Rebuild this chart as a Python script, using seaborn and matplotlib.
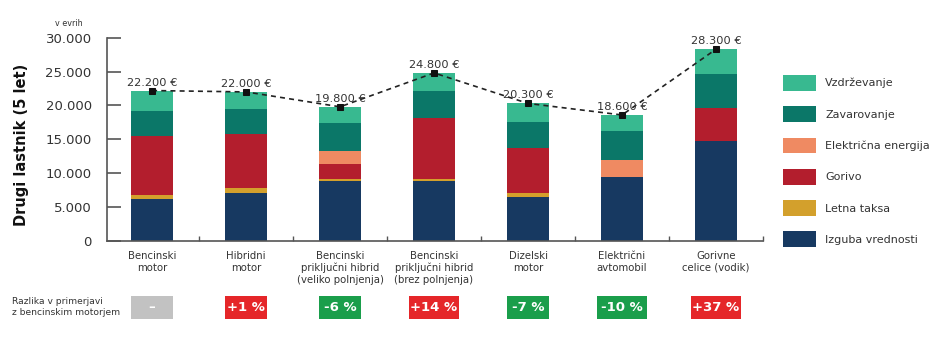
import numpy as np
import pandas as pd
import matplotlib
matplotlib.use("Agg")
import matplotlib.pyplot as plt
import seaborn as sns
from matplotlib.patches import Rectangle, Patch
from matplotlib.transforms import blended_transform_factory

# ---------------- data ----------------
categories = ["Bencinski\nmotor", "Hibridni\nmotor",
              "Bencinski\npriključni hibrid\n(veliko polnjenja)",
              "Bencinski\npriključni hibrid\n(brez polnjenja)",
              "Dizelski\nmotor", "Električni\navtomobil", "Gorivne\ncelice (vodik)"]
izguba_vrednosti = [6250, 7050, 8800, 8800, 6450, 9400, 14700]
letna_taksa = [500, 750, 350, 350, 600, 0, 0]
gorivo = [8750, 7950, 2250, 9000, 6650, 0, 4950]
elektricna_energija = [0, 0, 1900, 0, 0, 2500, 0]
zavarovanje = [3750, 3800, 4100, 4050, 3900, 4300, 5000]
vzdrzevanje = [2950, 2450, 2400, 2600, 2700, 2400, 3650]
totals = [22200, 22000, 19800, 24800, 20300, 18600, 28300]
diff_labels = ["–", "+1 %", "-6 %", "+14 %", "-7 %", "-10 %", "+37 %"]
yticks = [0, 5000, 10000, 15000, 20000, 25000, 30000]

layer_names = ["Izguba vrednosti", "Letna taksa", "Gorivo",
               "Električna energija", "Zavarovanje", "Vzdrževanje"]
layer_values = [izguba_vrednosti, letna_taksa, gorivo,
                elektricna_energija, zavarovanje, vzdrzevanje]
layer_colors = ["#173961", "#d3a02c", "#b31e2d", "#ef8a62", "#0b7768", "#38b990"]

# ---------------- style ----------------
sns.set_theme(style="white")
plt.rcParams["font.family"] = ["DejaVu Sans"]
plt.rcParams["xtick.direction"] = "in"
plt.rcParams["ytick.direction"] = "in"
plt.rcParams["xtick.bottom"] = True
plt.rcParams["ytick.left"] = True
text_col = "#333333"
spine_col = "#555555"

fig = plt.figure(figsize=(9.4, 3.61), dpi=100)
W, H = 940, 361
ax_left, ax_right = 107 / W, 763 / W
ax_bottom, ax_top = 1 - 241 / H, 1 - 37.7 / H
ax = fig.add_axes([ax_left, ax_bottom, ax_right - ax_left, ax_top - ax_bottom])

# stacked bars via cumulative sums (draw tallest first)
df = pd.DataFrame({n: v for n, v in zip(layer_names, layer_values)})
df["cat"] = categories
cum = df[layer_names].cumsum(axis=1)
for name, col in reversed(list(zip(layer_names, layer_colors))):
    sns.barplot(x=df["cat"], y=cum[name], color=col, width=0.45,
                saturation=1, edgecolor="none", linewidth=0, ax=ax, order=categories)

# dashed total line with markers
sns.lineplot(x=np.arange(len(categories)), y=totals, ax=ax, color="#222222",
             linestyle=(0, (3, 2.5)), linewidth=1.2, marker="s", markersize=4.5,
             markeredgecolor="#111111", markerfacecolor="#111111", zorder=5)

for i, t in enumerate(totals):
    ax.text(i, t + 450, f"{t:,.0f}".replace(",", ".") + " €", ha="center", va="bottom",
            fontsize=8.2, color=text_col, clip_on=False, zorder=6)

# axes
ax.set_xlim(-0.48, 6.5)
ax.set_ylim(0, 30000)
ax.set_yticks(yticks)
ax.set_yticklabels([f"{v:,.0f}".replace(",", ".") for v in yticks])
ax.tick_params(axis="y", which="major", direction="in", length=10, width=1.2,
               color=spine_col, pad=11, labelsize=9.5, labelcolor=text_col, left=True)
ax.set_xticks(range(len(categories)))
ax.set_xticklabels(categories, fontsize=7.3, color=text_col, linespacing=1.25)
ax.tick_params(axis="x", which="major", length=0, pad=7)
ax.set_xticks(np.arange(0.5, len(categories), 1.0), minor=True)
ax.tick_params(axis="x", which="minor", direction="in", length=3.5, width=1.0,
               color=spine_col, bottom=True)
ax.set_xlabel("")
ax.set_ylabel("")
for s in ["top", "right"]:
    ax.spines[s].set_visible(False)
for s in ["left", "bottom"]:
    ax.spines[s].set_color(spine_col)
    ax.spines[s].set_linewidth(1.2)

fig.text(22 / W, 1 - 145 / H, "Drugi lastnik (5 let)", rotation=90, ha="center",
         va="center", fontsize=10.5, fontweight="bold", color="#111111")
fig.text(55 / W, 1 - 24 / H, "v evrih", ha="left", va="center", fontsize=5.8,
         color=text_col)

# difference badges
fig.text(12 / W, 1 - 307 / H, "Razlika v primerjavi\nz bencinskim motorjem",
         ha="left", va="center", fontsize=6.6, color=text_col, linespacing=1.3)
trans = blended_transform_factory(ax.transData, fig.transFigure)
b_top, b_bot = 1 - 296 / H, 1 - 319 / H
for i, lab in enumerate(diff_labels):
    if lab.startswith("+"):
        c = "#e52629"
    elif lab.startswith("-"):
        c = "#1a9e4b"
    else:
        c = "#c2c2c2"
    w = 0.45 if len(lab) <= 4 else 0.53
    ax.add_patch(Rectangle((i - w / 2, b_bot), w, b_top - b_bot, transform=trans,
                           facecolor=c, edgecolor="none", clip_on=False))
    ax.text(i, (b_top + b_bot) / 2, lab, transform=trans, ha="center", va="center",
            color="white", fontsize=9.5, fontweight="bold", clip_on=False)

# legend
handles = [Patch(facecolor=c, edgecolor="none", label=n)
           for n, c in zip(layer_names, layer_colors)][::-1]
ax.legend(handles=handles, loc="upper left", bbox_to_anchor=(783 / W, 1 - 75 / H),
          bbox_transform=fig.transFigure, frameon=False, borderpad=0, borderaxespad=0,
          handlelength=3.0, handleheight=1.8, labelspacing=1.4, handletextpad=0.8,
          fontsize=8, labelcolor=text_col)

fig.savefig("out.png", dpi=100)
